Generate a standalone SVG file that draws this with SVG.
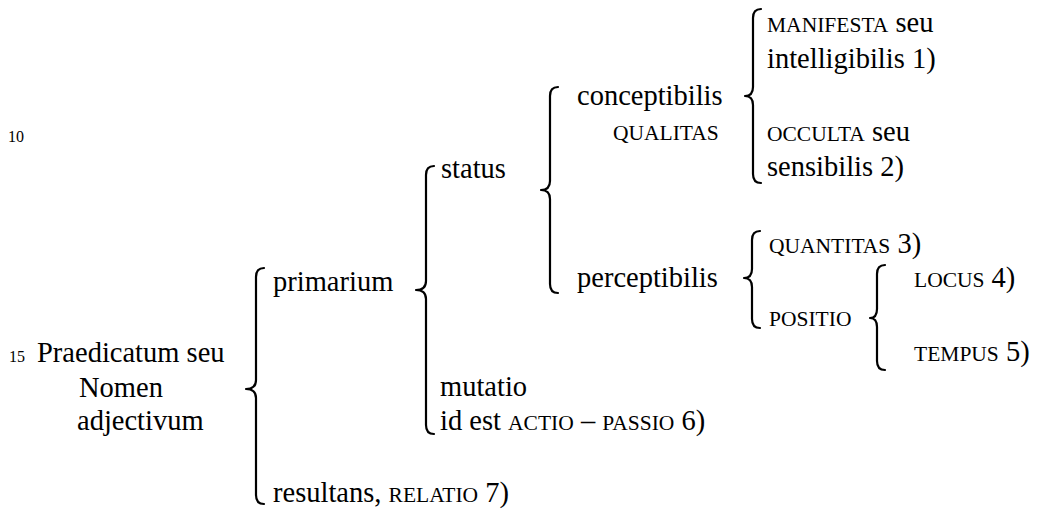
<svg xmlns="http://www.w3.org/2000/svg" width="1039" height="517" viewBox="0 0 1039 517">
<style>
text{font-family:'Liberation Serif','Times New Roman',serif;fill:#000;font-size:28.5px}
.sc{font-size:21.5px}
.num{font-size:16px}
.br{fill:none;stroke:#000;stroke-width:2.2;stroke-linecap:round;stroke-linejoin:round}
</style>
<rect width="1039" height="517" fill="#fff"/>
<g id="linenumbers">
<text class="num" x="8" y="142">10</text>
<text class="num" x="9" y="362">15</text>
</g>
<g id="root">
<text x="37" y="362">Praedicatum seu</text>
<text x="79" y="397">Nomen</text>
<text x="77" y="430">adjectivum</text>
</g>
<g id="primarium"><text x="273" y="291">primarium</text></g>
<g id="resultans"><text x="273" y="502">resultans, <tspan class="sc">RELATIO</tspan> 7)</text></g>
<g id="status"><text x="441" y="178">status</text></g>
<g id="mutatio">
<text x="440" y="396">mutatio</text>
<text x="440" y="430">id est <tspan class="sc">ACTIO</tspan> – <tspan class="sc">PASSIO</tspan> 6)</text>
</g>
<g id="conceptibilis">
<text x="577" y="105">conceptibilis</text>
<text class="sc" x="613" y="140">QUALITAS</text>
</g>
<g id="perceptibilis"><text x="577" y="287">perceptibilis</text></g>
<g id="manifesta">
<text x="767" y="32"><tspan class="sc">MANIFESTA</tspan> seu</text>
<text x="767" y="68">intelligibilis 1)</text>
</g>
<g id="occulta">
<text x="767" y="141"><tspan class="sc">OCCULTA</tspan> seu</text>
<text x="767" y="176">sensibilis 2)</text>
</g>
<g id="quantitas"><text x="769" y="253"><tspan class="sc">QUANTITAS</tspan> 3)</text></g>
<g id="positio"><text class="sc" x="769" y="326">POSITIO</text></g>
<g id="locus"><text x="914" y="287"><tspan class="sc">LOCUS</tspan> 4)</text></g>
<g id="tempus"><text x="914" y="361"><tspan class="sc">TEMPUS</tspan> 5)</text></g>
<g id="connectors">
<path class="br" d="M264,268 Q256,268 256,277 L256,380 Q256,389 246,389 Q256,389 256,398 L256,495 Q256,504 264,504"/>
<path class="br" d="M434,166 Q426,166 426,175 L426,281 Q426,290 416,290 Q426,290 426,299 L426,425 Q426,434 434,434"/>
<path class="br" d="M558,87 Q550,87 550,96 L550,181 Q550,190 541,190 Q550,190 550,199 L550,284 Q550,293 558,293"/>
<path class="br" d="M761,9 Q753,9 753,18 L753,87 Q753,96 745,96 Q753,96 753,105 L753,174 Q753,183 761,183"/>
<path class="br" d="M760,231 Q752,231 752,240 L752,269 Q752,278 744,278 Q752,278 752,287 L752,319 Q752,328 760,328"/>
<path class="br" d="M885,265 Q877,265 877,274 L877,309 Q877,318 870,318 Q877,318 877,327 L877,361 Q877,370 885,370"/>
</g>
</svg>
